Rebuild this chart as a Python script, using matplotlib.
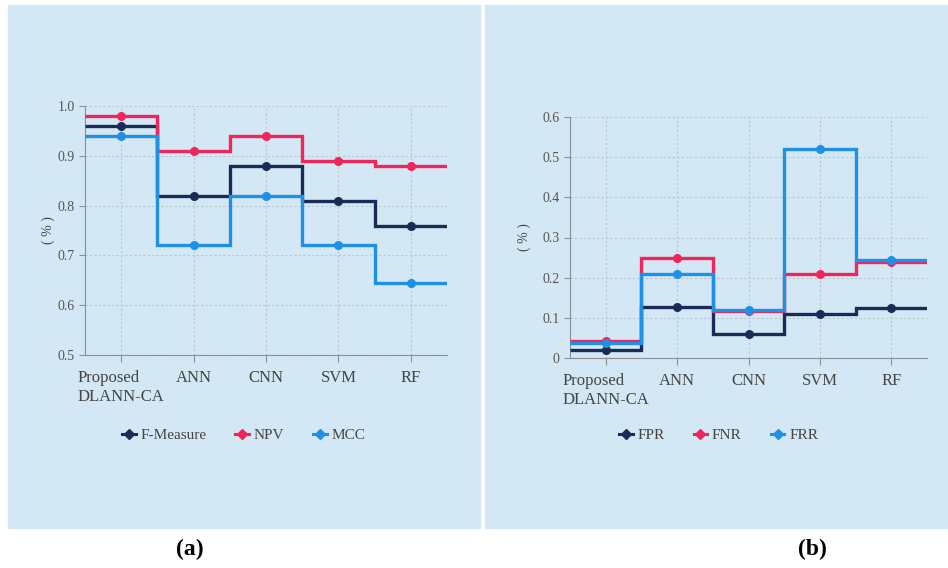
import matplotlib.pyplot as plt
import numpy as np
from matplotlib.patches import Rectangle
from matplotlib.lines import Line2D

plt.rcParams['font.family'] = ['Liberation Serif', 'DejaVu Serif']

categories = ['Proposed\nDLANN-CA', 'ANN', 'CNN', 'SVM', 'RF']

# panel (a)
f_measure = [0.96, 0.82, 0.88, 0.81, 0.76]
npv = [0.98, 0.91, 0.94, 0.89, 0.88]
mcc = [0.94, 0.72, 0.82, 0.72, 0.645]

# panel (b)
fpr = [0.02, 0.128, 0.06, 0.109, 0.125]
fnr = [0.043, 0.249, 0.116, 0.21, 0.24]
frr = [0.037, 0.209, 0.12, 0.52, 0.244]

NAVY = '#1b2b57'
RED = '#f2255b'
BLUE = '#1e90e6'
BG = '#d3e8f4'
W, H = 948, 568


def fx(px):
    return px / W


def fy(py):
    return 1 - py / H


fig = plt.figure(figsize=(9.48, 5.68), dpi=100)
fig.patch.set_facecolor('white')

# panel backgrounds
fig.patches.append(Rectangle((fx(8), fy(528)), fx(472), (528 - 5) / H,
                             transform=fig.transFigure, color=BG, zorder=-10))
fig.patches.append(Rectangle((fx(485), fy(528)), fx(463), (528 - 5) / H,
                             transform=fig.transFigure, color=BG, zorder=-10))


def draw_panel(rect, series, names, ylim, yticks, ytlabels, legend_x, ylpad):
    left, top, right, bottom = rect
    ax = fig.add_axes([fx(left), fy(bottom), fx(right - left), (bottom - top) / H])
    ax.set_facecolor('none')
    x = np.arange(len(categories))
    edges = np.arange(len(categories) + 1) - 0.5
    colors = [NAVY, RED, BLUE]
    handles = []
    for vals, c, name in zip(series, colors, names):
        ax.stairs(vals, edges, color=c, lw=2.4, baseline=None, zorder=3)
        ax.plot(x, vals, 'o', color=c, ms=5.5, zorder=4)
        handles.append(Line2D([], [], color=c, lw=2.2, marker='D', ms=5, label=name))
    ax.set_xlim(-0.5, 4.5)
    ax.set_ylim(*ylim)
    ax.set_xticks(x)
    ax.set_xticklabels(categories, fontsize=12, color='#444444')
    ax.get_xticklabels()[0].set_multialignment('left')
    ax.set_yticks(yticks)
    ax.set_yticklabels(ytlabels, fontsize=10, color='#555555')
    ax.grid(True, color='#b9c6d0', ls=(0, (2, 2)), lw=0.8)
    for s in ['top', 'right']:
        ax.spines[s].set_visible(False)
    for s in ['left', 'bottom']:
        ax.spines[s].set_color('#8a8f94')
    ax.tick_params(axis='y', length=4, color='#8a8f94')
    ax.tick_params(axis='x', length=5, color='#8a8f94', pad=6)
    ax.set_ylabel('( % )', fontsize=10, color='#444444', labelpad=ylpad)
    ax.legend(handles=handles, loc='center left', ncol=3, frameon=False,
              bbox_to_anchor=(fx(legend_x), fy(435)), bbox_transform=fig.transFigure,
              fontsize=11, handlelength=0.9, handletextpad=0.3, columnspacing=1.9,
              labelcolor='#444444', borderaxespad=0, borderpad=0)
    return ax


draw_panel((85, 106, 447, 355), [f_measure, npv, mcc], ['F-Measure', 'NPV', 'MCC'],
           (0.5, 1.0), [0.5, 0.6, 0.7, 0.8, 0.9, 1.0],
           ['0.5', '0.6', '0.7', '0.8', '0.9', '1.0'], 122, 2)
draw_panel((570, 117, 927, 358), [fpr, fnr, frr], ['FPR', 'FNR', 'FRR'],
           (0, 0.6), [0, 0.1, 0.2, 0.3, 0.4, 0.5, 0.6],
           ['0', '0.1', '0.2', '0.3', '0.4', '0.5', '0.6'], 619, 8)

fig.text(fx(190), fy(549), '(a)', ha='center', va='center', fontsize=17, fontweight='bold')
fig.text(fx(812), fy(549), '(b)', ha='center', va='center', fontsize=17, fontweight='bold')

fig.savefig('out.png', dpi=100, facecolor='white')
